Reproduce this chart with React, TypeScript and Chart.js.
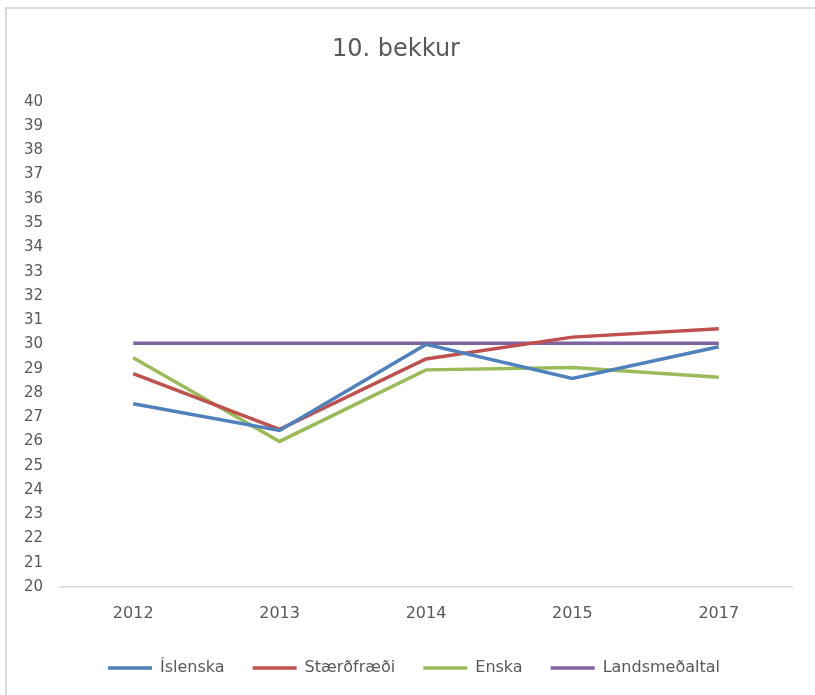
import React, { useEffect, useRef } from "react";
import { Chart, registerables } from "chart.js";

Chart.register(...registerables);

const categories = ["2012", "2013", "2014", "2015", "2017"];
const islenska = [27.55, 26.45, 30.0, 28.6, 29.9];
const staerdfraedi = [28.8, 26.5, 29.4, 30.3, 30.65];
const enska = [29.45, 26.0, 28.95, 29.05, 28.65];
const landsmedaltal = [30.05, 30.05, 30.05, 30.05, 30.05];
const seriesNames = ["Íslenska", "Stærðfræði", "Enska", "Landsmeðaltal"];
const seriesColors = ["#4F81BD", "#C0504D", "#9BBB59", "#8064A2"];
const titleText = "10. bekkur";

const FONT = "'DejaVu Sans', sans-serif";
const TEXT = "#595959";

const framePlugin = {
  id: "frame",
  beforeLayout(chart: any) {
    const lg = chart.legend;
    if (lg && !lg._fixedH) {
      const f = lg.fit.bind(lg);
      lg.fit = () => {
        f();
        lg.height = 63;
      };
      lg._fixedH = true;
    }
  },
  afterLayout(chart: any) {
    const lg = chart.legend;
    if (lg) {
      lg.left += 18;
      lg.right += 18;
    }
  },
  beforeDraw(chart: any) {
    const ctx = chart.ctx;
    ctx.save();
    ctx.strokeStyle = "#d9d9d9";
    ctx.lineWidth = 2;
    ctx.beginPath();
    ctx.moveTo(6, 695);
    ctx.lineTo(6, 8);
    ctx.lineTo(815, 8);
    ctx.stroke();
    ctx.restore();
  },
};

export default function App() {
  const ref = useRef<HTMLCanvasElement>(null);
  useEffect(() => {
    document.body.style.margin = "0";
    const all = [islenska, staerdfraedi, enska, landsmedaltal];
    const chart = new Chart(ref.current!, {
      type: "line",
      data: {
        labels: categories,
        datasets: all.map((d, i) => ({
          label: seriesNames[i],
          data: d,
          borderColor: seriesColors[i],
          backgroundColor: seriesColors[i],
          borderWidth: 3.5,
          pointRadius: 0,
          tension: 0,
        })),
      },
      options: {
        responsive: false,
        animation: false,
        layout: { padding: { left: 0, right: 23, top: 0, bottom: 0 } },
        plugins: {
          title: {
            display: true,
            text: titleText,
            color: TEXT,
            font: { family: FONT, size: 24, weight: "normal" },
            padding: { top: 35, bottom: 38 },
          },
          legend: {
            position: "bottom",
            labels: {
              color: TEXT,
              font: { family: FONT, size: 16 },
              usePointStyle: true,
              pointStyle: "line",
              pointStyleWidth: 44,
              padding: 28,
            },
          },
          tooltip: { enabled: false },
        },
        scales: {
          x: {
            offset: true,
            grid: { display: false, drawTicks: false },
            border: { display: true, color: "#d9d9d9", width: 1.5 },
            ticks: { color: TEXT, font: { family: FONT, size: 16 }, padding: 17 },
            afterFit: (s: any) => {
              s.height = 45;
            },
          },
          y: {
            min: 20,
            max: 40,
            grid: { display: false, drawTicks: false },
            border: { display: false },
            ticks: {
              stepSize: 1,
              color: TEXT,
              font: { family: FONT, size: 15 },
              padding: 17,
            },
            afterFit: (s: any) => {
              s.width = 60;
            },
          },
        },
      },
      plugins: [framePlugin],
    });
    return () => chart.destroy();
  }, []);
  return (
    <div style={{ position: "fixed", left: 0, top: 0, width: 815, height: 695, background: "#fff" }}>
      <canvas ref={ref} width={815} height={695} />
    </div>
  );
}
